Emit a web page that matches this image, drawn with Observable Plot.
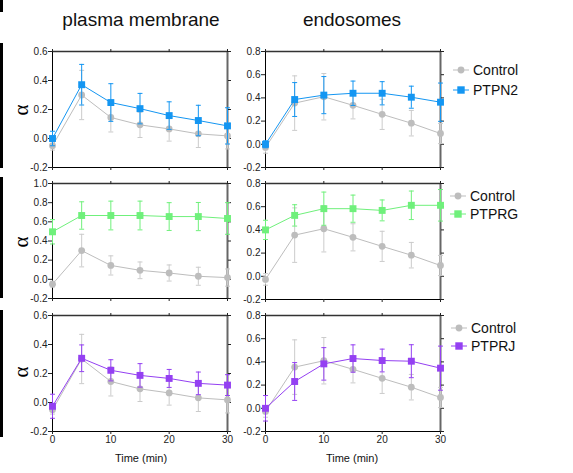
<!DOCTYPE html>
<html>
<head>
<meta charset="utf-8">
<script src="https://cdn.jsdelivr.net/npm/d3@7"></script>
<script src="https://cdn.jsdelivr.net/npm/@observablehq/plot@0.6"></script>
<style>
  body { margin: 0; background: white; }
  #wrap { position: relative; width: 573px; height: 473px; background: white; overflow: hidden;
          font-family: "Liberation Sans", Arial, sans-serif; color: #111; }
  .title { position: absolute; font-size: 19px; transform: translateX(-50%); white-space: nowrap; line-height: 1; }
  .alpha { position: absolute; font-family: "Liberation Serif", "DejaVu Serif", serif; font-size: 21px; color: #000;
           transform: translate(-50%, -50%) rotate(-90deg); line-height: 1; }
  .xlab { position: absolute; font-size: 11px; transform: translate(-50%, -50%); white-space: nowrap; line-height: 1; }
  .bar { position: absolute; left: 0; width: 3px; background: #000; }
  .leg { position: absolute; font-size: 14px; line-height: 1; display: flex; align-items: center; white-space: nowrap; }
  .leg svg { margin-right: 4px; }
  .plot { position: absolute; }
</style>
</head>
<body>
<div id="wrap"></div>
<script>
// ---- data ----
const time = [0, 5, 10, 15, 20, 25, 30];
const xTicks = [0, 10, 20, 30];
const ticksPM06 = [-0.2, 0, 0.2, 0.4, 0.6];
const ticksPM10 = [-0.2, 0, 0.2, 0.4, 0.6, 0.8, 1.0];
const ticksEndo = [-0.2, 0, 0.2, 0.4, 0.6, 0.8];

const controlPM     = [-0.05, 0.30, 0.145, 0.094, 0.066, 0.032, 0.018];
const controlPMErr  = [0.03, 0.17, 0.10, 0.087, 0.084, 0.094, 0.09];
const controlEndo    = [-0.027, 0.355, 0.41, 0.336, 0.258, 0.182, 0.093];
const controlEndoErr = [0.05, 0.235, 0.2, 0.117, 0.13, 0.11, 0.087];

const ptpn2PM      = [0.0, 0.371, 0.248, 0.206, 0.158, 0.124, 0.087];
const ptpn2PMErr   = [0.05, 0.14, 0.13, 0.105, 0.095, 0.105, 0.125];
const ptpn2Endo    = [0.0, 0.386, 0.424, 0.44, 0.44, 0.406, 0.363];
const ptpn2EndoErr = [0.03, 0.146, 0.16, 0.105, 0.1, 0.095, 0.165];

const ptprgPM      = [0.496, 0.666, 0.666, 0.666, 0.655, 0.655, 0.635];
const ptprgPMErr   = [0.127, 0.143, 0.15, 0.15, 0.145, 0.147, 0.165];
const ptprgEndo    = [0.40, 0.525, 0.583, 0.583, 0.568, 0.612, 0.612];
const ptprgEndoErr = [0.083, 0.092, 0.143, 0.117, 0.09, 0.123, 0.136];

const ptprjPM      = [-0.026, 0.305, 0.222, 0.187, 0.166, 0.132, 0.12];
const ptprjPMErr   = [0.083, 0.092, 0.073, 0.081, 0.062, 0.078, 0.072];
const ptprjEndo    = [0.0, 0.231, 0.383, 0.429, 0.412, 0.406, 0.346];
const ptprjEndoErr = [0.11, 0.163, 0.14, 0.118, 0.098, 0.142, 0.19];

const seriesNames = ["PTPN2", "PTPRG", "PTPRJ"];
const seriesColors = ["#1496f2", "#6ff07b", "#9440f2"];
const controlColor = "#bdbdbd";
const controlErrColor = "#cbcbcb";
const columnTitles = ["plasma membrane", "endosomes"];
const xLabel = "Time (min)";
const yLabel = "α";

// ---- helpers ----
const wrap = document.getElementById("wrap");
const cap = { draw(ctx, size) { const w = Math.sqrt(size) / 2; ctx.moveTo(-w, 0); ctx.lineTo(w, 0); } };

function rowsOf(vals, errs) {
  return time.map((t, i) => ({ t, v: vals[i], lo: vals[i] - errs[i], hi: vals[i] + errs[i] }));
}

function seriesMarks(data, color, errColor, symbol, r) {
  return [
    Plot.ruleX(data, { x: "t", y1: "lo", y2: "hi", stroke: errColor, strokeWidth: 1 }),
    Plot.dot(data, { x: "t", y: "hi", symbol: cap, r: 2.8, stroke: errColor, strokeWidth: 1 }),
    Plot.dot(data, { x: "t", y: "lo", symbol: cap, r: 2.8, stroke: errColor, strokeWidth: 1 }),
    Plot.line(data, { x: "t", y: "v", stroke: color, strokeWidth: 1 }),
    Plot.dot(data, { x: "t", y: "v", symbol, r, fill: color, stroke: "none" })
  ];
}

function panel({ ctrl, ctrlErr, ser, serErr, color, domain, ticks, bottom, left, top }) {
  const mb = bottom ? 40 : 10;
  const ph = domain[1] === 1.0 ? 115 : 116;
  const svg = Plot.plot({
    width: 240,
    height: 10 + ph + mb,
    marginLeft: 52, marginRight: 13, marginTop: 10, marginBottom: mb,
    style: { background: "transparent", overflow: "visible", fontFamily: "Liberation Sans, Arial, sans-serif",
             fontSize: "10px", color: "#222" },
    x: { domain: [0, 30] },
    y: { domain },
    marks: [
      Plot.ruleX([30], { stroke: "#666", strokeWidth: 2 }),
      Plot.ruleY([domain[1]], { stroke: "#333", strokeWidth: 1.5 }),
      Plot.ruleX([0], { stroke: "#000", strokeWidth: 1 }),
      Plot.ruleY([domain[0]], { stroke: "#000", strokeWidth: 1 }),
      Plot.axisY({ ticks, tickFormat: d => d.toFixed(1), tickSize: 4, tickPadding: 1, label: null, fontSize: 10 }),
      Plot.axisY({ anchor: "right", ticks, tickFormat: () => "", tickSize: 3, label: null }),
      Plot.axisX({ anchor: "top", ticks: xTicks, tickFormat: () => "", tickSize: 3, label: null }),
      Plot.axisX({ anchor: "bottom", ticks: xTicks, tickFormat: bottom ? (d => String(d)) : () => "",
                   tickSize: 3, tickPadding: 1, label: null, fontSize: 10 }),
      ...seriesMarks(rowsOf(ctrl, ctrlErr), controlColor, controlErrColor, "circle", 3.4),
      ...seriesMarks(rowsOf(ser, serErr), color, color, "square", 3.9)
    ]
  });
  svg.classList.add("plot");
  svg.style.left = left + "px";
  svg.style.top = top + "px";
  svg.style.width = "240px";
  svg.style.maxWidth = "none";
  wrap.appendChild(svg);
}

const rowSpecs = [
  { pm: [ptpn2PM, ptpn2PMErr], endo: [ptpn2Endo, ptpn2EndoErr], pmDomain: [-0.2, 0.6], pmTicks: ticksPM06, top: 41 },
  { pm: [ptprgPM, ptprgPMErr], endo: [ptprgEndo, ptprgEndoErr], pmDomain: [-0.2, 1.0], pmTicks: ticksPM10, top: 173 },
  { pm: [ptprjPM, ptprjPMErr], endo: [ptprjEndo, ptprjEndoErr], pmDomain: [-0.2, 0.6], pmTicks: ticksPM06, top: 305 }
];

rowSpecs.forEach((r, i) => {
  const bottom = i === 2;
  panel({ ctrl: controlPM, ctrlErr: controlPMErr, ser: r.pm[0], serErr: r.pm[1], color: seriesColors[i],
          domain: r.pmDomain, ticks: r.pmTicks, bottom, left: 0, top: r.top });
  panel({ ctrl: controlEndo, ctrlErr: controlEndoErr, ser: r.endo[0], serErr: r.endo[1], color: seriesColors[i],
          domain: [-0.2, 0.8], ticks: ticksEndo, bottom, left: 213, top: r.top });
});

// ---- text & decorations ----
function add(cls, html, style) {
  const d = document.createElement("div");
  d.className = cls;
  d.innerHTML = html;
  Object.assign(d.style, style);
  wrap.appendChild(d);
  return d;
}
add("title", columnTitles[0], { left: "141px", top: "10px" });
add("title", columnTitles[1], { left: "352px", top: "10px" });

[110, 242, 372].forEach(y => add("alpha", yLabel, { left: "21px", top: y + "px" }));
[141, 352].forEach(x => add("xlab", xLabel, { left: x + "px", top: "458px" }));

[[0, 12], [43, 168], [177, 298], [310, 437]].forEach(([a, b]) =>
  add("bar", "", { top: a + "px", height: (b - a) + "px" }));

function legendSym(color, shape) {
  const m = shape === "circle"
    ? `<circle cx="8" cy="6" r="3.4" fill="${color}"/>`
    : `<rect x="4.3" y="2.3" width="7.4" height="7.4" fill="${color}"/>`;
  return `<svg width="16" height="12"><line x1="0" x2="16" y1="6" y2="6" stroke="${color}" stroke-width="1"/>${m}</svg>`;
}
const legendPos = [
  { x: 453, y1: 70, y2: 90 },
  { x: 450, y1: 196, y2: 214 },
  { x: 451, y1: 328, y2: 346 }
];
legendPos.forEach((p, i) => {
  add("leg", legendSym(controlColor, "circle") + "<span>Control</span>", { left: p.x + "px", top: (p.y1 - 7) + "px" });
  add("leg", legendSym(seriesColors[i], "square") + "<span>" + seriesNames[i] + "</span>", { left: p.x + "px", top: (p.y2 - 7) + "px" });
});
</script>
</body>
</html>
